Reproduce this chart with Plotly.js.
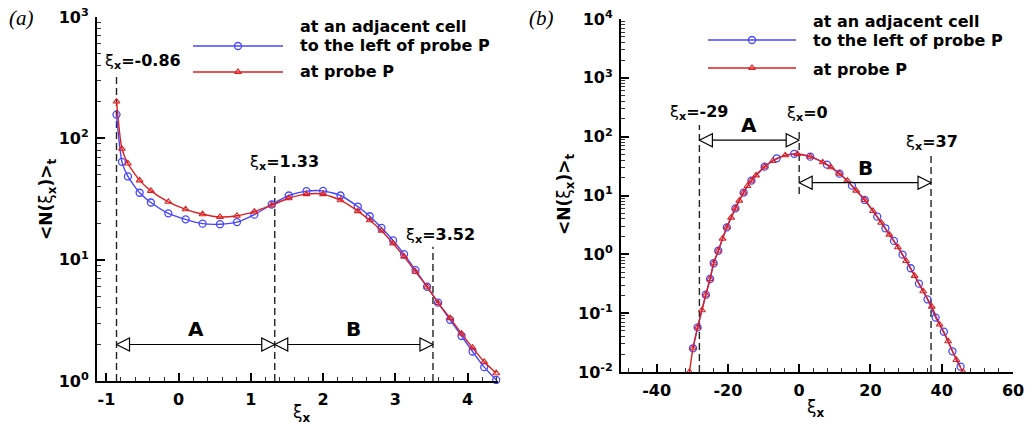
<!DOCTYPE html>
<html><head><meta charset="utf-8">
<script src="https://cdn.plot.ly/plotly-3.0.1.min.js"></script>
<style>html,body{margin:0;padding:0;background:#fff}#chart{width:1035px;height:431px}</style>
</head><body><div id="chart"></div>
<script>
// ---------- Panel (a) data ----------
const aX = [-0.86, -0.785, -0.702, -0.540, -0.384, -0.143, 0.097, 0.332, 0.572, 0.807, 1.048, 1.288, 1.524, 1.769, 1.999, 2.240, 2.479, 2.645, 2.807, 2.968, 3.120, 3.278, 3.439, 3.591, 3.757, 3.915, 4.068, 4.229, 4.395];
const aBlue = [157, 64, 48.5, 35.6, 29.6, 24.1, 21.5, 19.8, 19.6, 20.4, 23.5, 28.5, 33.8, 36.7, 36.9, 33.8, 27.4, 22.8, 18.3, 14.4, 11.1, 8.2, 5.98, 4.43, 3.19, 2.35, 1.75, 1.30, 1.02];
const aRed = [201, 82, 62, 45, 36.9, 30, 26, 23.7, 22.5, 23.0, 24.9, 28.1, 32.1, 34.7, 34.7, 30.9, 25.1, 21.1, 17.3, 13.6, 10.6, 7.96, 5.98, 4.39, 3.30, 2.46, 1.88, 1.44, 1.16];
const aBounds = [-0.86, 1.33, 3.52];
const aBoundLabels = ['-0.86', '1.33', '3.52'];
const aBoundTops = [337, 50.5, 12.8];
const aBoundBottoms = [1, 1, 1];
const aArrowY = [2, 2];
const aRegions = ['A', 'B'];
const aXTicks = [-1, 0, 1, 2, 3, 4];
const aYTicks = [1, 10, 100, 1000];

// ---------- Panel (b) data ----------
const bBlueX = [-29.8, -28.5, -26.2, -25.0, -24.0, -22.7, -20.3, -17.9, -15.6, -13.4, -9.7, -6.3, -1.4, 3.1, 7.8, 11.3, 14.8, 18.4, 21.9, 24.2, 26.6, 29.0, 31.3, 33.6, 36.0, 38.3, 40.6, 43.0, 45.3];
const bBlueY = [0.0253, 0.0575, 0.206, 0.381, 0.705, 1.15, 2.88, 6.05, 11.2, 17.9, 30.9, 42.9, 51.0, 45.7, 33.4, 23.5, 14.7, 8.4, 4.37, 2.77, 1.69, 0.986, 0.58, 0.317, 0.172, 0.084, 0.0484, 0.0225, 0.0123];
const bRedX = [-30.8, -29.8, -28.5, -27.3, -26.2, -25.0, -24.0, -22.7, -21.5, -20.3, -19.1, -17.9, -16.8, -15.6, -14.5, -13.4, -12.1, -9.7, -7.4, -3.9, -0.5, 3.1, 6.6, 8.9, 11.3, 13.5, 16.0, 18.4, 20.7, 23.0, 25.3, 27.7, 30.0, 32.4, 34.8, 37.2, 39.4, 41.8, 44.1, 46.0];
const bRedY = [0.0100, 0.0253, 0.0575, 0.112, 0.206, 0.381, 0.705, 1.15, 1.85, 2.88, 4.2, 6.05, 8.17, 11.2, 14.5, 17.9, 22.0, 30.9, 38.6, 48.2, 50.8, 45.7, 36.7, 30.2, 23.5, 17.9, 12.1, 8.4, 5.45, 3.45, 2.16, 1.32, 0.771, 0.43, 0.236, 0.129, 0.064, 0.0333, 0.016, 0.0100];
const bBounds = [-28, 0, 37];
const bBoundLabels = ['-29', '0', '37'];
const bBoundTops = [158, 141, 51];
const bBoundBottoms = [0.01, 10.6, 0.01];
const bArrowY = [87, 16.5];
const bRegions = ['A', 'B'];
const bXTicks = [-40, -20, 0, 20, 40, 60];
const bYTicks = [0.01, 0.1, 1, 10, 100, 1000, 10000];

const seriesNames = ['at an adjacent cell<br>to the left of probe P', 'at probe P'];
const legendLines = ['at an adjacent cell', 'to the left of probe P', 'at probe P'];
const panelLabels = ['(a)', '(b)'];

// ---------- styling ----------
const W = 1035, H = 431;
const FONT = '"DejaVu Sans", "Liberation Sans", sans-serif';
const BLUE = '#4646ff', RED = '#dd1f1f';
const px = v => v / W, py = v => 1 - v / H;
const sup = v => '10<sup>' + Math.round(Math.log10(v)) + '</sup>';
const minorLog = (d0, d1) => { const r = []; for (let d = d0; d < d1; d++) for (let m = 2; m <= 9; m++) r.push(m * Math.pow(10, d)); return r; };
const xiLabel = s => 'ξ<sub><b>x</b></sub><b>=' + s + '</b>';
const blueMarker = {symbol: 'circle-open', size: 7, color: BLUE, line: {width: 1.3, color: BLUE}};
const redMarker = {symbol: 'triangle-up-open', size: 6, color: RED, line: {width: 1.1, color: RED}};
const boldFont = (size) => ({family: FONT, size: size, color: 'black', weight: 'bold'});

const traces = [];
function addPanel(xa, ya, bounds, tops, bottoms, arrowY, blueX, blueY, redX, redY) {
  bounds.forEach((b, i) => traces.push({x: [b, b], y: [bottoms[i], tops[i]], xaxis: xa, yaxis: ya, mode: 'lines',
    line: {color: '#222', width: 1.4, dash: '7px,4px'}, hoverinfo: 'skip', showlegend: false}));
  traces.push({x: blueX, y: blueY, xaxis: xa, yaxis: ya, mode: 'lines+markers', name: seriesNames[0], showlegend: false, cliponaxis: false,
    line: {color: BLUE, width: 1.4, shape: 'spline', smoothing: 0.6}, marker: blueMarker});
  traces.push({x: redX, y: redY, xaxis: xa, yaxis: ya, mode: 'lines+markers', name: seriesNames[1], showlegend: false, cliponaxis: false,
    line: {color: RED, width: 1.4, shape: 'spline', smoothing: 0.6}, marker: redMarker});
  for (let i = 0; i < bounds.length - 1; i++) {
    traces.push({x: [bounds[i], bounds[i + 1]], y: [arrowY[i], arrowY[i]], xaxis: xa, yaxis: ya, mode: 'lines+markers',
      line: {color: 'black', width: 1.2}, cliponaxis: false, hoverinfo: 'skip', showlegend: false,
      marker: {symbol: ['arrow-left', 'arrow-right'], size: 13, color: 'white', line: {color: 'black', width: 1.2}}});
  }
}
addPanel('x', 'y', aBounds, aBoundTops, aBoundBottoms, aArrowY, aX, aBlue, aX, aRed);
addPanel('x2', 'y2', bBounds, bBoundTops, bBoundBottoms, bArrowY, bBlueX, bBlueY, bRedX, bRedY);

// hand-drawn legend samples on a hidden full-figure pixel axis
const legGeo = [{x0: 193, x1: 283, yB: 46, yR: 72, tx: 298, ty: [26, 45, 71]},
                {x0: 708, x1: 796, yB: 40, yR: 68, tx: 811, ty: [21, 41, 69]}];
legGeo.forEach(g => {
  const xm = (g.x0 + g.x1) / 2;
  traces.push({x: [g.x0, g.x1], y: [g.yB, g.yB], xaxis: 'x3', yaxis: 'y3', mode: 'lines', line: {color: BLUE, width: 1.4}, hoverinfo: 'skip', showlegend: false});
  traces.push({x: [xm], y: [g.yB], xaxis: 'x3', yaxis: 'y3', mode: 'markers', marker: blueMarker, hoverinfo: 'skip', showlegend: false});
  traces.push({x: [g.x0, g.x1], y: [g.yR, g.yR], xaxis: 'x3', yaxis: 'y3', mode: 'lines', line: {color: RED, width: 1.4}, hoverinfo: 'skip', showlegend: false});
  traces.push({x: [xm], y: [g.yR], xaxis: 'x3', yaxis: 'y3', mode: 'markers', marker: redMarker, hoverinfo: 'skip', showlegend: false});
});

const annotations = [];
function boundAnn(xr, yr, bounds, labels, tops, shifts) {
  bounds.forEach((b, i) => annotations.push({x: b, y: Math.log10(tops[i]), xref: xr, yref: yr, text: xiLabel(labels[i]),
    showarrow: false, xanchor: 'center', yanchor: 'bottom', xshift: shifts[i][0], yshift: shifts[i][1],
    font: {family: FONT, size: 16, color: 'black'}}));
}
boundAnn('x', 'y', aBounds, aBoundLabels, aBoundTops, [[26, 0], [10, -1], [8, -1]]);
boundAnn('x2', 'y2', bBounds, bBoundLabels, bBoundTops, [[0, 0], [8, 2], [1, -1]]);
function regionAnn(xr, yr, bounds, arrowY, names) {
  names.forEach((n, i) => annotations.push({x: (bounds[i] + bounds[i + 1]) / 2, y: Math.log10(arrowY[i]), xref: xr, yref: yr,
    text: n, showarrow: false, xanchor: 'center', yanchor: 'bottom', yshift: 1, font: boldFont(20)}));
}
regionAnn('x', 'y', aBounds, aArrowY, aRegions);
regionAnn('x2', 'y2', bBounds, bArrowY, bRegions);
legGeo.forEach(g => legendLines.forEach((t, i) => annotations.push({x: px(g.tx), y: py(g.ty[i]), xref: 'paper', yref: 'paper',
  text: t, showarrow: false, xanchor: 'left', yanchor: 'middle', font: boldFont(16)})));
// panel labels
[[21, 18], [541, 18]].forEach((p, i) => annotations.push({x: px(p[0]), y: py(p[1]), xref: 'paper', yref: 'paper', text: panelLabels[i],
  showarrow: false, xanchor: 'center', yanchor: 'middle', font: {family: '"Liberation Serif", serif', size: 21, style: 'italic', color: 'black'}}));
// axis titles
const yTitle = '<b>&lt;N(</b>ξ<sub><b>x</b></sub><b>)&gt;</b><sub><b>t</b></sub>';
const xTitle = 'ξ<sub><b>x</b></sub>';
[[47, 200], [565, 195]].forEach(p => annotations.push({x: px(p[0]), y: py(p[1]), xref: 'paper', yref: 'paper', text: yTitle, textangle: -90,
  showarrow: false, xanchor: 'center', yanchor: 'middle', font: {family: FONT, size: 17, color: 'black'}}));
[[301, 413], [815, 408]].forEach(p => annotations.push({x: px(p[0]), y: py(p[1]), xref: 'paper', yref: 'paper', text: xTitle,
  showarrow: false, xanchor: 'center', yanchor: 'middle', font: {family: FONT, size: 17, color: 'black'}}));

const axBase = {showline: true, linecolor: 'black', linewidth: 2, ticks: 'inside', ticklen: 8, tickwidth: 1.5, tickcolor: 'black',
  showgrid: false, zeroline: false, tickfont: boldFont(16), fixedrange: true};
const minorX = d => ({ticks: 'inside', ticklen: 4, tickwidth: 1, tickcolor: '#333', dtick: d, showgrid: false});

const layout = {
  width: W, height: H, margin: {l: 0, r: 0, t: 0, b: 0}, paper_bgcolor: 'white', plot_bgcolor: 'rgba(0,0,0,0)', showlegend: false,
  xaxis: Object.assign({}, axBase, {domain: [px(97), px(498)], range: [-1.13, 4.42], tickmode: 'array', tickvals: aXTicks,
    ticktext: aXTicks.map(String), minor: Object.assign(minorX(0.2), {tick0: 0}), anchor: 'y', ticklabelstandoff: 3}),
  yaxis: Object.assign({}, axBase, {type: 'log', domain: [1 - 381 / H, 1 - 17 / H], range: [0, 3], tickmode: 'array', tickvals: aYTicks,
    ticktext: aYTicks.map(sup), minor: {ticks: 'inside', ticklen: 4, tickwidth: 1, tickcolor: '#333', tickmode: 'array', tickvals: minorLog(0, 3), showgrid: false}, anchor: 'x', ticklabelstandoff: 3}),
  xaxis2: Object.assign({}, axBase, {domain: [px(621), px(1013)], range: [-50, 60], tickmode: 'array', tickvals: bXTicks,
    ticktext: bXTicks.map(String), minor: Object.assign(minorX(4), {tick0: 0}), anchor: 'y2', ticklabelstandoff: 3}),
  yaxis2: Object.assign({}, axBase, {type: 'log', domain: [1 - 372 / H, 1 - 19 / H], range: [-2, 4], tickmode: 'array', tickvals: bYTicks,
    ticktext: bYTicks.map(sup), minor: {ticks: 'inside', ticklen: 4, tickwidth: 1, tickcolor: '#333', tickmode: 'array', tickvals: minorLog(-2, 4), showgrid: false}, anchor: 'x2', ticklabelstandoff: 3}),
  xaxis3: {domain: [0, 1], range: [0, W], visible: false, fixedrange: true, anchor: 'y3'},
  yaxis3: {domain: [0, 1], range: [H, 0], visible: false, fixedrange: true, anchor: 'x3'},
  annotations: annotations
};
Plotly.newPlot('chart', traces, layout, {displayModeBar: false});
</script></body></html>
